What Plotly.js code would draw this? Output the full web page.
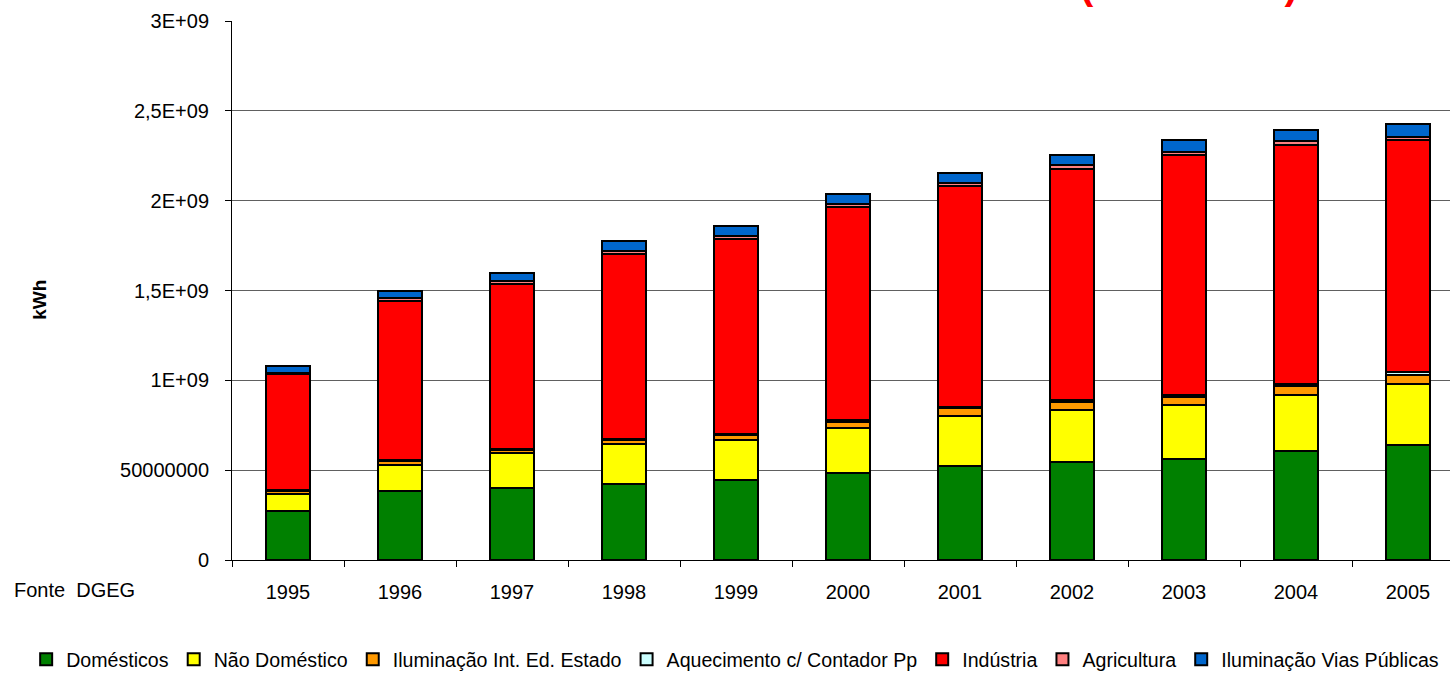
<!DOCTYPE html>
<html>
<head>
<meta charset="utf-8">
<script src="https://cdn.plot.ly/plotly-3.0.1.min.js"></script>
<style>html,body{margin:0;padding:0;background:#fff;}#chart{width:1450px;height:679px;}</style>
</head>
<body>
<div id="chart"></div>
<script>
var years = ["1995","1996","1997","1998","1999","2000","2001","2002","2003","2004","2005"];
var domesticos     = [270e6, 382e6, 400e6, 422e6, 446e6, 487e6, 524e6, 543e6, 563e6, 607e6, 639e6];
var naoDomestico   = [100e6, 148e6, 193e6, 222e6, 222e6, 246e6, 278e6, 290e6, 298e6, 311e6, 343e6];
var ilumIntEd      = [15e6, 20e6, 20e6, 25e6, 30e6, 36e6, 42e6, 45e6, 45e6, 48e6, 50e6];
var aquecimento    = [3e6, 4e6, 4e6, 5e6, 6e6, 9e6, 10e6, 13e6, 12e6, 12e6, 14e6];
var industria      = [645e6, 885e6, 919e6, 1027e6, 1084e6, 1185e6, 1226e6, 1285e6, 1334e6, 1333e6, 1289e6];
var agricultura    = [8e6, 18e6, 17e6, 17e6, 17e6, 18e6, 20e6, 22e6, 20e6, 20e6, 20e6];
var ilumVias       = [37e6, 40e6, 45e6, 58e6, 52e6, 57e6, 55e6, 58e6, 65e6, 63e6, 74e6];

var seriesNames  = ["Domésticos","Não Doméstico","Iluminação Int. Ed. Estado","Aquecimento c/ Contador Pp","Indústria","Agricultura","Iluminação Vias Públicas"];
var seriesValues = [domesticos, naoDomestico, ilumIntEd, aquecimento, industria, agricultura, ilumVias];
var seriesColors = ["#008000","#FFFF00","#FF9900","#CCFFFF","#FF0000","#FF8080","#0066CC"];

var yTickVals  = [0, 5e8, 1e9, 1.5e9, 2e9, 2.5e9, 3e9];
var yTickText  = ["0","50000000","1E+09","1,5E+09","2E+09","2,5E+09","3E+09"];

var FONT = "Liberation Sans, Arial, sans-serif";

var traces = seriesNames.map(function(n, i){
  return {
    type: "bar",
    name: n,
    x: years,
    y: seriesValues[i],
    marker: {color: seriesColors[i], line: {color: "#000", width: 2}},
    hoverinfo: "x+y+name"
  };
});

var layout = {
  width: 1450, height: 679,
  margin: {l: 232, r: 0, t: 21, b: 118, pad: 0},
  paper_bgcolor: "#fff", plot_bgcolor: "#fff",
  barmode: "stack",
  bargap: 0.6,
  font: {family: FONT, size: 20, color: "#000"},
  showlegend: true,
  legend: {
    orientation: "h", x: -0.169, xanchor: "left", y: -0.184, yanchor: "middle",
    traceorder: "normal", font: {family: FONT, size: 19.6, color: "#000"},
    itemwidth: 30, bgcolor: "rgba(0,0,0,0)", borderwidth: 0
  },
  xaxis: {
    type: "category",
    range: [-0.5, 10.375],
    showline: true, linecolor: "#000", linewidth: 1,
    ticks: "outside", tickson: "boundaries", ticklen: 6, tickcolor: "#000",
    showgrid: false, zeroline: false,
    ticklabelstandoff: 14,
    tickfont: {family: FONT, size: 20, color: "#000"}
  },
  yaxis: {
    range: [0, 3e9],
    tickmode: "array", tickvals: yTickVals, ticktext: yTickText,
    showline: true, linecolor: "#000", linewidth: 1,
    ticks: "outside", ticklen: 6, tickcolor: "#000",
    showgrid: true, gridcolor: "#606060", gridwidth: 1,
    zeroline: false,
    ticklabelstandoff: 12,
    tickfont: {family: FONT, size: 20, color: "#000"}
  },
  annotations: [
    {text: "<b>kWh</b>", xref: "paper", yref: "paper", x: -0.1576, y: 0.483,
     xanchor: "center", yanchor: "middle", textangle: -90, showarrow: false,
     font: {family: FONT, size: 19, color: "#000"}},
    {text: "Fonte  DGEG", xref: "paper", yref: "paper", x: -0.1806, y: -0.056,
     xanchor: "left", yanchor: "middle", showarrow: false,
     font: {family: FONT, size: 20, color: "#000"}},
    {text: "<b>(1995-2005)</b>", xref: "paper", yref: "paper", x: 0.7857, y: 1.0222,
     xanchor: "center", yanchor: "bottom", showarrow: false,
     font: {family: FONT, size: 40, color: "#FF0000"}}
  ]
};

Plotly.newPlot("chart", traces, layout, {staticPlot: true, displayModeBar: false});
</script>
</body>
</html>
